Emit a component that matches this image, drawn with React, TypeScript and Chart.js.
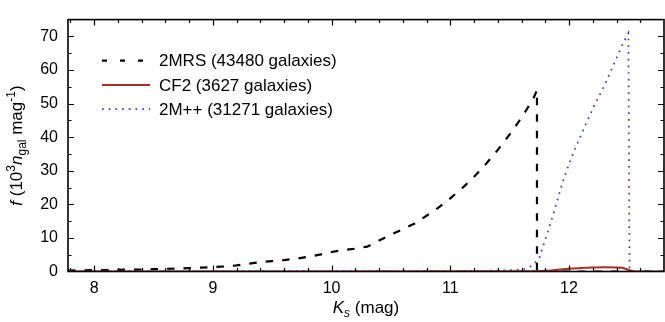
import React, { useEffect, useRef } from "react";
import { Chart, registerables } from "chart.js";

Chart.register(...registerables);

// ---- data ----
const mrsK = [7.78, 7.9, 8.0, 8.1, 8.2, 8.3, 8.4, 8.5, 8.6, 8.7, 8.8, 8.9, 9.0, 9.1, 9.2, 9.3, 9.4, 9.5, 9.6, 9.7, 9.8, 9.9, 10.0, 10.1, 10.2, 10.3, 10.4, 10.5, 10.6, 10.7, 10.8, 10.9, 11.0, 11.1, 11.2, 11.3, 11.4, 11.5, 11.6, 11.7, 11.73, 11.73, 12.8];
const mrsF = [0.3, 0.35, 0.4, 0.45, 0.5, 0.55, 0.6, 0.7, 0.8, 0.9, 1.0, 1.15, 1.3, 1.5, 1.8, 2.3, 2.8, 3.1, 3.4, 3.8, 4.4, 5.0, 5.8, 6.4, 6.8, 7.4, 9.2, 11.0, 12.6, 14.3, 16.6, 19.0, 21.8, 24.8, 28.2, 32.0, 36.2, 40.8, 45.8, 51.5, 54.0, 0, 0];

const cf2K = [7.78, 11.7, 11.8, 11.9, 12.0, 12.1, 12.2, 12.3, 12.4, 12.45, 12.5, 12.55, 12.8];
const cf2F = [0.02, 0.05, 0.2, 0.5, 0.8, 1.05, 1.2, 1.25, 1.2, 1.1, 0.5, 0.05, 0];

const mppK = [7.78, 8.5, 9.5, 10.5, 11.3, 11.6, 11.65, 11.7, 11.75, 11.8, 11.85, 11.9, 11.95, 12.0, 12.05, 12.1, 12.15, 12.2, 12.25, 12.3, 12.35, 12.4, 12.45, 12.5, 12.51, 12.8];
const mppF = [0.05, 0.05, 0.08, 0.1, 0.2, 0.5, 1.0, 2.0, 4.0, 9.5, 15.0, 21.0, 27.0, 32.0, 36.5, 40.5, 44.5, 48.5, 52.0, 55.5, 59.5, 63.5, 67.5, 71.0, 0, 0];

const seriesLabels = ["2MRS (43480 galaxies)", "CF2 (3627 galaxies)", "2M++ (31271 galaxies)"];
const xTickValues = [8, 9, 10, 11, 12];
const yTickValues = [0, 10, 20, 30, 40, 50, 60, 70];

const FONT = "'Liberation Sans', Arial, Helvetica, sans-serif";

const framePlugin = {
  id: "frameTicks",
  afterDatasetsDraw(chart: any) {
    const { ctx, chartArea: a, scales } = chart;
    const xs = scales.x;
    const ys = scales.y;
    ctx.save();
    ctx.strokeStyle = "#000";
    ctx.lineWidth = 1.2;
    // x ticks
    for (let i = 39; i <= 64; i++) {
      const v = i / 5;
      const px = Math.round(xs.getPixelForValue(v)) + 0.5;
      if (px < a.left + 1 || px > a.right - 1) continue;
      const major = i % 5 === 0;
      const len = major ? 6 : 3.5;
      ctx.beginPath();
      ctx.moveTo(px, a.bottom);
      ctx.lineTo(px, a.bottom - len);
      ctx.moveTo(px, a.top);
      ctx.lineTo(px, a.top + len);
      ctx.stroke();
    }
    for (let v = 0; v <= 75; v += 5) {
      const py = Math.round(ys.getPixelForValue(v)) + 0.5;
      if (py < a.top + 1 || py > a.bottom - 1) continue;
      const major = v % 10 === 0;
      const len = major ? 6 : 3.5;
      ctx.beginPath();
      ctx.moveTo(a.left, py);
      ctx.lineTo(a.left + len, py);
      ctx.moveTo(a.right, py);
      ctx.lineTo(a.right - len, py);
      ctx.stroke();
    }
    ctx.lineWidth = 1.6;
    ctx.strokeRect(a.left, a.top, a.right - a.left, a.bottom - a.top);

    // legend
    const ds = chart.data.datasets;
    ctx.font = `17px ${FONT}`;
    ctx.textBaseline = "middle";
    ctx.fillStyle = "#000";
    for (let i = 0; i < ds.length; i++) {
      const y = a.top + 41 + i * 24.3;
      ctx.save();
      ctx.strokeStyle = ds[i].borderColor;
      ctx.lineWidth = ds[i].borderWidth;
      ctx.setLineDash(ds[i].legendDash || []);
      ctx.beginPath();
      ctx.moveTo(a.left + 34, y);
      ctx.lineTo(a.left + 82, y);
      ctx.stroke();
      ctx.restore();
      ctx.fillText(ds[i].label, a.left + 91, y + 1);
    }

    // axis titles
    const drawRich = (segs: any[], cx: number, cy: number, rot: number) => {
      ctx.save();
      ctx.translate(cx, cy);
      ctx.rotate(rot);
      ctx.textBaseline = "alphabetic";
      ctx.fillStyle = "#000";
      let total = 0;
      for (const s of segs) {
        ctx.font = `${s.it ? "italic " : ""}${s.size}px ${FONT}`;
        s.w = ctx.measureText(s.t).width;
        total += s.w;
      }
      let x = -total / 2;
      for (const s of segs) {
        ctx.font = `${s.it ? "italic " : ""}${s.size}px ${FONT}`;
        ctx.fillText(s.t, x, 6 + (s.dy || 0));
        x += s.w;
      }
      ctx.restore();
    };
    drawRich(
      [
        { t: "K", it: true, size: 17 },
        { t: "s", it: true, size: 12, dy: 4 },
        { t: " (mag)", size: 17 },
      ],
      (a.left + a.right) / 2,
      307,
      0
    );
    drawRich(
      [
        { t: "f", it: true, size: 17 },
        { t: " (10", size: 17 },
        { t: "3", size: 12, dy: -7 },
        { t: "n", it: true, size: 17 },
        { t: "gal", size: 12, dy: 4 },
        { t: " mag", size: 17 },
        { t: "-1", size: 12, dy: -7 },
        { t: ")", size: 17 },
      ],
      16,
      (a.top + a.bottom) / 2,
      -Math.PI / 2
    );
    ctx.restore();
  },
};

export default function App() {
  const ref = useRef<HTMLCanvasElement>(null);
  useEffect(() => {
    document.body.style.margin = "0";
    const toPts = (k: number[], f: number[]) => k.map((x, i) => ({ x, y: f[i] }));
    const chart = new Chart(ref.current as HTMLCanvasElement, {
      type: "line",
      data: {
        datasets: [
          {
            label: seriesLabels[0],
            data: toPts(mrsK, mrsF),
            borderColor: "#000000",
            borderWidth: 2.2,
            borderDash: [7.5, 9],
            legendDash: [5, 13],
            pointRadius: 0,
            tension: 0,
            order: 2,
          } as any,
          {
            label: seriesLabels[1],
            data: toPts(cf2K, cf2F),
            borderColor: "#b02a2a",
            borderWidth: 2,
            borderDash: [],
            legendDash: [],
            pointRadius: 0,
            tension: 0.3,
            order: 1,
          } as any,
          {
            label: seriesLabels[2],
            data: toPts(mppK, mppF),
            borderColor: "#3a3ad0",
            borderWidth: 1.7,
            borderDash: [1.7, 5],
            legendDash: [1.7, 5],
            pointRadius: 0,
            tension: 0,
            order: 3,
          } as any,
        ],
      },
      options: {
        animation: false,
        responsive: false,
        maintainAspectRatio: false,
        layout: { padding: { top: 11, right: 1, left: 0, bottom: 0 } },
        plugins: { legend: { display: false }, tooltip: { enabled: false } },
        scales: {
          x: {
            type: "linear",
            min: 7.78,
            max: 12.8,
            grid: { display: false, drawTicks: false },
            border: { display: false },
            ticks: { color: "#000", font: { size: 16, family: FONT }, padding: 7 },
            afterBuildTicks: (s: any) => {
              s.ticks = xTickValues.map((v) => ({ value: v }));
            },
            afterFit: (s: any) => {
              s.height = 50.5;
            },
          },
          y: {
            type: "linear",
            min: 0,
            max: 75,
            grid: { display: false, drawTicks: false },
            border: { display: false },
            ticks: { color: "#000", font: { size: 16, family: FONT }, padding: 10 },
            afterBuildTicks: (s: any) => {
              s.ticks = yTickValues.map((v) => ({ value: v }));
            },
            afterFit: (s: any) => {
              s.width = 68;
            },
          },
        },
      } as any,
      plugins: [framePlugin],
    });
    return () => chart.destroy();
  }, []);
  return (
    <div style={{ width: 665, height: 322 }}>
      <canvas ref={ref} width={665} height={322} style={{ display: "block" }} />
    </div>
  );
}
